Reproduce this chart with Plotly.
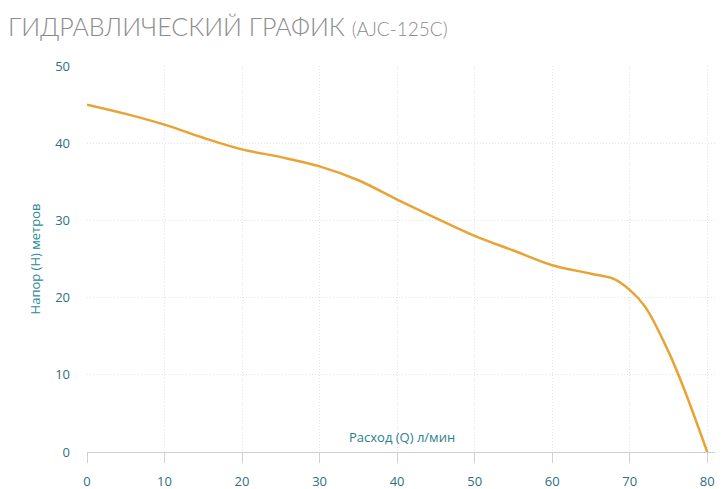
import plotly.graph_objects as go

flow = [0, 5, 10, 15, 20, 25, 30, 35, 40, 45, 50, 55, 60, 65, 68, 70, 72, 75, 77, 80]
head = [45, 43.8, 42.4, 40.7, 39.2, 38.2, 37.0, 35.2, 32.7, 30.3, 28.0, 26.1, 24.2, 23.1, 22.4, 21.0, 18.8, 13.0, 8.2, 0]
x_ticks = [0, 10, 20, 30, 40, 50, 60, 70, 80]
y_ticks = [0, 10, 20, 30, 40, 50]

title_main = "ГИДРАВЛИЧЕСКИЙ ГРАФИК"
title_model = "(AJC-125C)"
x_title = "Расход (Q) л/мин"
y_title = "Напор (Н) метров"

tick_color = "#2f6f7e"
fig = go.Figure()
fig.add_trace(go.Scatter(
    x=flow, y=head, mode="lines",
    line=dict(color="#e9a334", width=2.5, shape="spline", smoothing=1.0),
    hoverinfo="x+y", showlegend=False,
))

fig.update_layout(
    width=720, height=481,
    margin=dict(l=79, r=13, t=58, b=37, autoexpand=False),
    paper_bgcolor="white", plot_bgcolor="white",
    font=dict(family="Open Sans, sans-serif", color=tick_color, size=13),
    title=dict(
        text=f"{title_main} <span style='font-size:19px'>{title_model}</span>",
        x=0.0, xanchor="left", y=0.978, yanchor="top",
        font=dict(family="Lato, Open Sans, sans-serif", size=25, color="#8c8c8c", weight=300),
    ),
    xaxis=dict(
        range=[0, 81], tickvals=x_ticks, ticktext=[str(v) for v in x_ticks],
        showgrid=True, gridcolor="#e4e4e4", griddash="1px,2px", gridwidth=1,
        showline=True, linecolor="#d0d0d0", linewidth=1,
        ticks="outside", ticklen=10, tickcolor="#d0d0d0",
        ticklabelstandoff=7, automargin=False,
        zeroline=False, tickfont=dict(size=13, color=tick_color),
    ),
    yaxis=dict(
        range=[0, 50], tickvals=y_ticks, ticktext=[str(v) for v in y_ticks],
        showgrid=True, gridcolor="#e4e4e4", griddash="1px,2px", gridwidth=1,
        showline=False, zeroline=False, ticks="", automargin=False,
        ticklabelstandoff=16,
        tickfont=dict(size=13, color=tick_color),
        title=dict(text=y_title, font=dict(size=13, color="#2a8a96"), standoff=11),
    ),
    annotations=[dict(
        x=40.6, y=0, xref="x", yref="y", yshift=15, showarrow=False,
        text=x_title, font=dict(size=13, color="#2a7f8f"),
        xanchor="center", yanchor="middle",
    )],
)

fig.write_html("out.html")
